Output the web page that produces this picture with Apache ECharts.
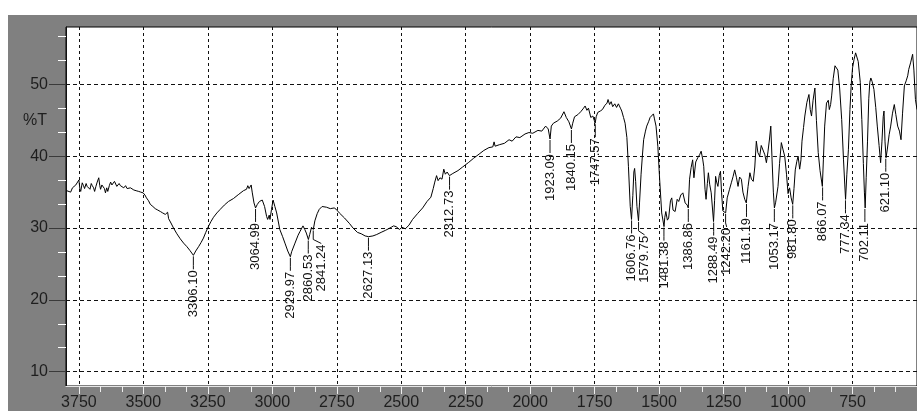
<!DOCTYPE html>
<html>
<head>
<meta charset="utf-8">
<title>IR spectrum</title>
<script src="https://cdn.jsdelivr.net/npm/echarts@6/dist/echarts.min.js"></script>
<style>
  html, body { margin: 0; padding: 0; background: #fff; }
  #chart { width: 917px; height: 411px; }
</style>
</head>
<body>
<div id="chart"></div>
<script>
// [wavenumber cm-1, %T]
const spectrum = [
  [3797, 35.2], [3790, 35.4], [3782, 35.0], [3775, 35.6], [3769, 35.4], [3762, 36.0], [3756, 36.1], [3750, 36.7],
  [3746, 35.4], [3743, 35.1], [3737, 36.3], [3732, 35.9], [3728, 35.5], [3722, 36.2], [3718, 35.8], [3712, 36.0],
  [3707, 35.4], [3702, 36.2], [3698, 35.9], [3693, 35.6], [3689, 35.1], [3684, 35.8], [3679, 36.4], [3673, 37.0],
  [3669, 35.9], [3666, 35.4], [3661, 36.0], [3656, 36.1], [3651, 35.5], [3647, 34.9], [3642, 35.6], [3638, 35.1],
  [3632, 35.9], [3627, 36.4], [3622, 36.0], [3617, 36.1], [3612, 36.5], [3608, 36.3], [3603, 35.8], [3599, 35.8],
  [3594, 36.2], [3589, 35.9], [3582, 35.7], [3576, 35.6], [3569, 35.9], [3563, 35.5], [3556, 35.7], [3550, 35.6],
  [3543, 35.4], [3537, 35.3], [3528, 35.2], [3518, 35.1], [3510, 35.0], [3501, 34.9], [3494, 34.6], [3488, 34.2],
  [3480, 33.8], [3473, 33.3], [3463, 33.0], [3454, 32.7], [3444, 32.5], [3434, 32.3], [3425, 32.1], [3415, 31.9],
  [3408, 31.7], [3406, 32.2], [3402, 31.3], [3393, 30.7], [3383, 30.0], [3370, 29.2], [3357, 28.5], [3344, 27.9],
  [3331, 27.4], [3320, 26.9], [3306, 26.2], [3297, 26.8], [3286, 27.4], [3276, 28.0], [3267, 28.6], [3258, 29.4],
  [3248, 30.2], [3238, 30.9], [3228, 31.5], [3215, 32.1], [3202, 32.6], [3186, 33.2], [3170, 33.7], [3151, 34.1],
  [3130, 34.7], [3112, 35.2], [3100, 35.4], [3095, 35.9], [3090, 35.5], [3082, 36.0], [3078, 35.0], [3071, 33.5],
  [3065, 32.8], [3058, 33.3], [3050, 33.7], [3039, 33.9], [3030, 33.0], [3022, 31.6], [3018, 31.2], [3012, 31.8],
  [3009, 31.2], [3003, 32.6], [2997, 33.9], [2990, 33.0], [2983, 32.1], [2971, 29.8], [2960, 28.8], [2951, 27.9],
  [2940, 26.8], [2930, 26.0], [2925, 26.7], [2912, 27.9], [2900, 29.0], [2893, 29.5], [2881, 30.3], [2874, 29.8],
  [2868, 29.3], [2860, 28.4], [2855, 29.1], [2848, 30.1], [2841, 29.8], [2835, 31.0], [2826, 32.0], [2818, 32.6],
  [2807, 33.0], [2800, 32.8], [2790, 32.9], [2775, 32.7], [2760, 32.8], [2752, 32.6], [2740, 32.1], [2720, 31.4],
  [2700, 30.6], [2687, 30.0], [2670, 29.4], [2655, 29.2], [2640, 28.9], [2627, 28.8], [2610, 28.9], [2595, 29.1],
  [2578, 29.4], [2560, 29.7], [2539, 30.1], [2530, 30.3], [2520, 30.2], [2507, 29.8], [2497, 30.1], [2484, 29.9],
  [2470, 30.4], [2456, 31.2], [2437, 32.0], [2417, 32.8], [2400, 33.7], [2385, 34.3], [2376, 35.5], [2370, 36.4],
  [2363, 37.3], [2357, 36.6], [2350, 37.0], [2342, 36.8], [2335, 38.2], [2329, 37.5], [2322, 37.8], [2313, 37.3],
  [2300, 37.6], [2280, 38.0], [2262, 38.5], [2240, 39.1], [2220, 39.7], [2198, 40.3], [2180, 40.8], [2160, 41.2],
  [2145, 41.3], [2140, 42.0], [2136, 41.4], [2120, 41.6], [2100, 41.8], [2082, 42.3], [2070, 42.1], [2055, 42.7],
  [2040, 42.6], [2020, 43.1], [2005, 43.3], [1990, 43.2], [1970, 43.6], [1955, 43.5], [1940, 44.2], [1930, 43.8],
  [1923, 42.4], [1918, 44.2], [1910, 44.6], [1895, 44.9], [1882, 45.3], [1869, 46.2], [1860, 45.4], [1850, 44.8],
  [1840, 43.8], [1835, 44.6], [1828, 45.5], [1815, 45.8], [1804, 46.2], [1795, 46.6], [1787, 47.0], [1780, 46.4],
  [1774, 46.7], [1765, 45.4], [1757, 45.6], [1748, 44.6], [1744, 45.5], [1738, 46.1], [1728, 46.3], [1720, 46.5],
  [1710, 47.1], [1702, 47.4], [1698, 47.9], [1692, 47.2], [1686, 47.6], [1680, 46.9], [1672, 47.3], [1665, 46.8],
  [1658, 47.3], [1650, 46.7], [1645, 46.3], [1638, 45.4], [1632, 44.6], [1625, 42.6], [1619, 38.6], [1612, 33.0],
  [1607, 31.2], [1602, 34.5], [1598, 37.8], [1595, 38.3], [1591, 36.5], [1586, 33.0], [1580, 31.0], [1576, 33.5],
  [1570, 37.5], [1565, 40.0], [1560, 42.3], [1553, 43.5], [1548, 44.2], [1541, 44.8], [1535, 45.4], [1528, 45.2],
  [1522, 45.9], [1518, 45.2], [1512, 44.2], [1505, 41.4], [1498, 36.8], [1490, 32.1], [1481, 30.2], [1478, 31.5],
  [1474, 32.3], [1468, 31.1], [1463, 31.4], [1456, 33.8], [1451, 34.2], [1446, 32.5], [1438, 32.3], [1430, 34.0],
  [1424, 33.7], [1416, 34.6], [1408, 34.9], [1399, 33.5], [1391, 33.2], [1387, 32.8], [1382, 36.8], [1376, 38.4],
  [1370, 39.5], [1365, 37.0], [1358, 39.2], [1350, 39.8], [1343, 40.2], [1337, 40.7], [1331, 39.6], [1327, 38.6],
  [1322, 35.4], [1318, 34.0], [1313, 36.2], [1309, 37.7], [1304, 36.1], [1298, 34.9], [1289, 30.9], [1285, 33.8],
  [1281, 37.2], [1277, 36.4], [1272, 35.8], [1267, 37.3], [1262, 37.9], [1258, 35.0], [1253, 32.4], [1247, 32.3],
  [1242, 32.1], [1236, 34.2], [1227, 35.4], [1220, 36.3], [1213, 37.2], [1207, 38.1], [1200, 37.0], [1194, 35.8],
  [1188, 37.1], [1181, 36.8], [1175, 35.0], [1168, 34.0], [1162, 33.5], [1155, 35.8], [1148, 37.7], [1142, 36.8],
  [1135, 36.5], [1129, 38.5], [1123, 42.1], [1117, 40.5], [1110, 40.0], [1104, 41.5], [1097, 41.4], [1090, 40.2],
  [1084, 39.1], [1078, 40.6], [1072, 42.4], [1067, 44.2], [1062, 39.5], [1057, 35.0], [1053, 32.8], [1048, 33.6],
  [1039, 35.8], [1033, 39.0], [1026, 41.9], [1020, 41.0], [1013, 40.0], [1006, 37.5], [1000, 34.8], [994, 35.6],
  [988, 34.2], [982, 33.3], [977, 35.5], [972, 38.1], [966, 39.3], [961, 40.0], [955, 38.2], [950, 39.5],
  [946, 42.1], [940, 44.0], [935, 45.6], [927, 47.5], [919, 48.6], [914, 46.5], [909, 45.6], [903, 47.8],
  [896, 49.5], [890, 45.0], [883, 40.5], [876, 38.0], [867, 35.8], [863, 39.5], [858, 44.2], [851, 47.4],
  [844, 47.8], [840, 46.5], [835, 47.2], [831, 48.4], [825, 50.8], [818, 52.6], [812, 52.8], [807, 52.0],
  [800, 49.5], [792, 45.1], [785, 39.5], [780, 36.0], [777, 34.0], [772, 37.5], [766, 40.9], [760, 46.5],
  [755, 50.0], [750, 52.3], [744, 53.5], [738, 54.4], [734, 54.6], [728, 53.2], [720, 50.3], [714, 45.1],
  [708, 39.0], [704, 35.0], [701, 32.8], [697, 37.0], [692, 42.0], [687, 48.0], [683, 50.3], [679, 50.9],
  [674, 50.4], [667, 49.3], [660, 46.8], [654, 44.2], [647, 41.5], [641, 39.1], [636, 42.0], [631, 45.5],
  [628, 46.3], [624, 42.0], [620, 39.8], [615, 41.0], [608, 43.0], [602, 44.2], [595, 46.0], [588, 47.2],
  [582, 45.8], [575, 44.2], [568, 43.5], [562, 42.3], [556, 46.0], [549, 49.8], [542, 50.5], [536, 51.2],
  [532, 52.1], [525, 53.0], [517, 54.2], [512, 52.0], [506, 47.9], [500, 46.5]
];

const peakWavenumbers = [3306.10, 3064.99, 2929.97, 2860.53, 2841.24, 2627.13, 2312.73, 1923.09, 1840.15, 1747.57,
  1606.76, 1579.75, 1481.38, 1386.86, 1288.49, 1242.20, 1161.19, 1053.17, 981.80, 866.07, 777.34, 702.11, 621.10];
const peakValues = [26.2, 32.8, 26.0, 28.4, 29.8, 28.8, 37.3, 42.4, 43.8, 44.6,
  31.2, 31.0, 30.2, 32.8, 30.9, 32.1, 33.5, 32.8, 33.3, 35.8, 34.0, 32.8, 39.8];

const xTicks = [3750, 3500, 3250, 3000, 2750, 2500, 2250, 2000, 1750, 1500, 1250, 1000, 750];
const yTicks = [10, 20, 30, 40, 50];

const xMinorTicks = [];
for (let v = 500; v < 3750; v += 250) xMinorTicks.push(v + 250 / 3, v + 500 / 3);
const yMinorTicks = [];
for (let v = 10; v < 58; v += 10) yMinorTicks.push(v + 10 / 3, v + 20 / 3);

const FONT = '"Liberation Sans", Arial, sans-serif';

// spread labels that would overlap, keep order left to right
const labelSlots = (api) => {
  const slots = [];
  let last = -Infinity;
  peakWavenumbers.forEach(w => {
    const x = Math.max(api.coord([w, 30])[0], last + 13);
    slots.push(x);
    last = x;
  });
  return slots;
};

const chart = echarts.init(document.getElementById('chart'));

const xBase = {
  type: 'value',
  inverse: true,
  min: 500,
  max: 3800,
  position: 'bottom'
};
const yBase = {
  type: 'value',
  min: 8,
  max: 58,
  position: 'left'
};

const option = {
  animation: false,
  backgroundColor: '#808080',
  grid: {
    show: true,
    left: 66,
    top: 27,
    width: 854,
    height: 359,
    backgroundColor: '#fff',
    borderColor: '#000',
    borderWidth: 1
  },
  xAxis: [
    {
      ...xBase,
      interval: 250,
      axisLine: { lineStyle: { color: '#e6e6e6', width: 1 } },
      axisTick: { customValues: xTicks, length: 8, lineStyle: { color: '#eee' } },
      axisLabel: {
        customValues: xTicks,
        formatter: v => (v >= 750 && v <= 3750 ? String(v) : ''),
        color: '#1e1e1e',
        fontSize: 16,
        fontFamily: FONT,
        margin: 9
      },
      splitLine: { show: true, lineStyle: { color: '#111', type: [3, 3], width: 1 } }
    },
    {
      ...xBase,
      axisLine: { show: false },
      axisTick: { customValues: xMinorTicks, length: 6, lineStyle: { color: '#eee' } },
      axisLabel: { show: false },
      splitLine: { show: false }
    }
  ],
  yAxis: [
    {
      ...yBase,
      axisLine: { show: true, lineStyle: { color: '#111', width: 1 } },
      axisTick: { customValues: yTicks, length: 17, lineStyle: { color: '#3a3a3a' } },
      axisLabel: {
        customValues: yTicks,
        color: '#1e1e1e',
        fontSize: 16,
        fontFamily: FONT,
        margin: 18
      },
      splitLine: { show: true, lineStyle: { color: '#111', type: [4, 3], width: 1 } }
    },
    {
      ...yBase,
      axisLine: { show: false },
      axisTick: { customValues: yMinorTicks, length: 8, lineStyle: { color: '#fff' } },
      axisLabel: { show: false },
      splitLine: { show: false }
    }
  ],
  graphic: [
    { type: 'rect', left: 0, top: 0, shape: { width: 917, height: 15 }, style: { fill: '#fff' }, silent: true },
    { type: 'rect', left: 0, top: 0, shape: { width: 8, height: 411 }, style: { fill: '#fff' }, silent: true },
    { type: 'text', left: 23, top: 113, style: { text: '%T', fontSize: 16, fontFamily: FONT, fill: '#1e1e1e' } }
  ],
  series: [
    {
      type: 'line',
      data: spectrum,
      showSymbol: false,
      lineStyle: { color: '#000', width: 1 },
      clip: true
    },
    {
      type: 'custom',
      data: peakWavenumbers.map((w, i) => [w, peakValues[i]]),
      z: 5,
      renderItem: (params, api) => {
        const i = params.dataIndex;
        const p = api.coord([api.value(0), api.value(1)]);
        const tx = labelSlots(api)[i];
        const top = p[1] + 14;
        return {
          type: 'group',
          children: [
            {
              type: 'polyline',
              shape: { points: [[p[0], p[1] + 1], [p[0], top - 4], [tx, top]] },
              style: { stroke: '#111', lineWidth: 1, fill: 'none' }
            },
            {
              type: 'text',
              x: tx,
              y: top + 1,
              rotation: Math.PI / 2,
              style: {
                text: peakWavenumbers[i].toFixed(2),
                fontSize: 13,
                fontFamily: FONT,
                fill: '#111',
                align: 'right',
                verticalAlign: 'middle'
              }
            }
          ]
        };
      }
    }
  ]
};

chart.setOption(option);
window.addEventListener('resize', () => chart.resize());
</script>
</body>
</html>
